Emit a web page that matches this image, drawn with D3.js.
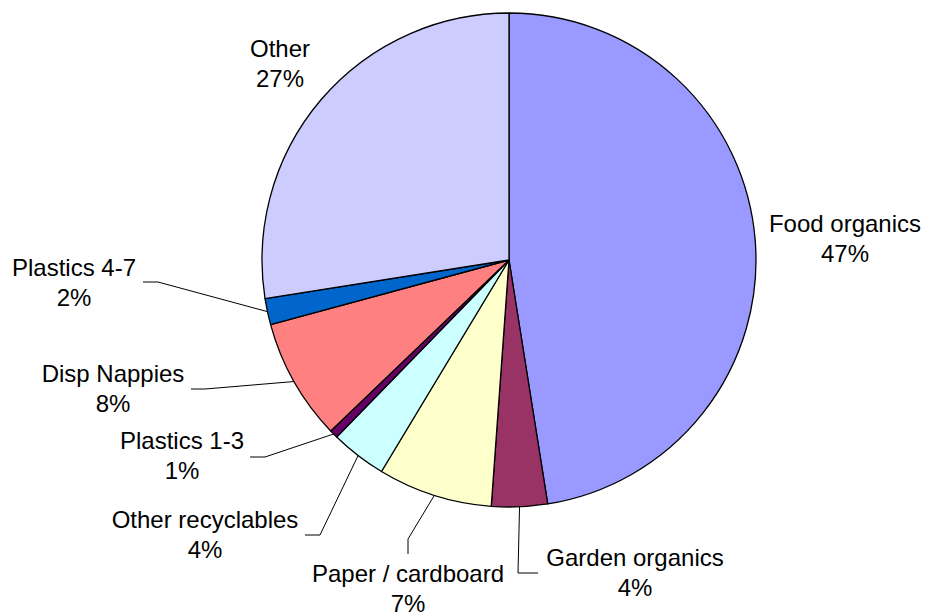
<!DOCTYPE html>
<html>
<head>
<meta charset="utf-8">
<script src="https://cdn.jsdelivr.net/npm/d3@7"></script>
<style>
  html, body { margin: 0; padding: 0; background: #fff; }
  svg { display: block; }
  text { font-family: "Liberation Sans", Arial, Helvetica, sans-serif; font-size: 24px; fill: #000; }
</style>
</head>
<body>
<svg id="chart" width="932" height="615"></svg>
<script>
// Waste composition by category (share of total, %)
const categories = ["Food organics", "Garden organics", "Paper / cardboard", "Other recyclables",
                    "Plastics 1-3", "Disp Nappies", "Plastics 4-7", "Other"];
const shares = [47.49, 3.65, 7.49, 3.65, 0.55, 7.95, 1.72, 27.49];
const colors = ["#9999FF", "#993366", "#FFFFCC", "#CCFFFF", "#660066", "#FF8080", "#0066CC", "#CCCCFF"];

// Label placement: text centre x, first baseline y, and leader elbow points (label side first)
const labelLayout = [
  { x: 845, y: 232, leader: null },
  { x: 635, y: 566, leader: [[538, 573], [518, 573]] },
  { x: 408, y: 582, leader: [[408, 554], [408, 539]] },
  { x: 205, y: 528, leader: [[305, 535], [320, 535]] },
  { x: 182, y: 449, leader: [[250, 457], [265, 457]] },
  { x: 113, y: 382, leader: [[191, 389], [205, 389]] },
  { x: 74,  y: 276, leader: [[143, 282], [158, 282]] },
  { x: 280, y: 57,  leader: null }
];

const cx = 509, cy = 260, radius = 247;
const svg = d3.select("#chart");
const g = svg.append("g").attr("transform", `translate(${cx},${cy})`);

const total = d3.sum(shares);
const data = categories.map((name, i) => ({ name, value: shares[i], color: colors[i], layout: labelLayout[i] }));

const pie = d3.pie().value(d => d.value).sort(null);
const arc = d3.arc().innerRadius(0).outerRadius(radius);
const arcs = pie(data);

g.selectAll("path.slice")
  .data(arcs)
  .join("path")
  .attr("class", "slice")
  .attr("d", arc)
  .attr("fill", d => d.data.color)
  .attr("stroke", "#000")
  .attr("stroke-width", 1.3)
  .attr("stroke-linejoin", "round");

// Leader lines from label to the rim at each slice's mid-angle
arcs.forEach(a => {
  const lay = a.data.layout;
  if (!lay.leader) return;
  const mid = (a.startAngle + a.endAngle) / 2;
  const rim = [cx + radius * Math.sin(mid), cy - radius * Math.cos(mid)];
  const pts = lay.leader.concat([rim]);
  svg.append("path")
    .attr("d", d3.line()(pts))
    .attr("fill", "none")
    .attr("stroke", "#000")
    .attr("stroke-width", 1);
});

// Category name and rounded percentage
arcs.forEach(a => {
  const lay = a.data.layout;
  const pct = Math.round(a.data.value / total * 100) + "%";
  const t = svg.append("text")
    .attr("x", lay.x)
    .attr("y", lay.y)
    .attr("text-anchor", "middle");
  t.append("tspan").attr("x", lay.x).text(a.data.name);
  t.append("tspan").attr("x", lay.x).attr("dy", 30).text(pct);
});
</script>
</body>
</html>
